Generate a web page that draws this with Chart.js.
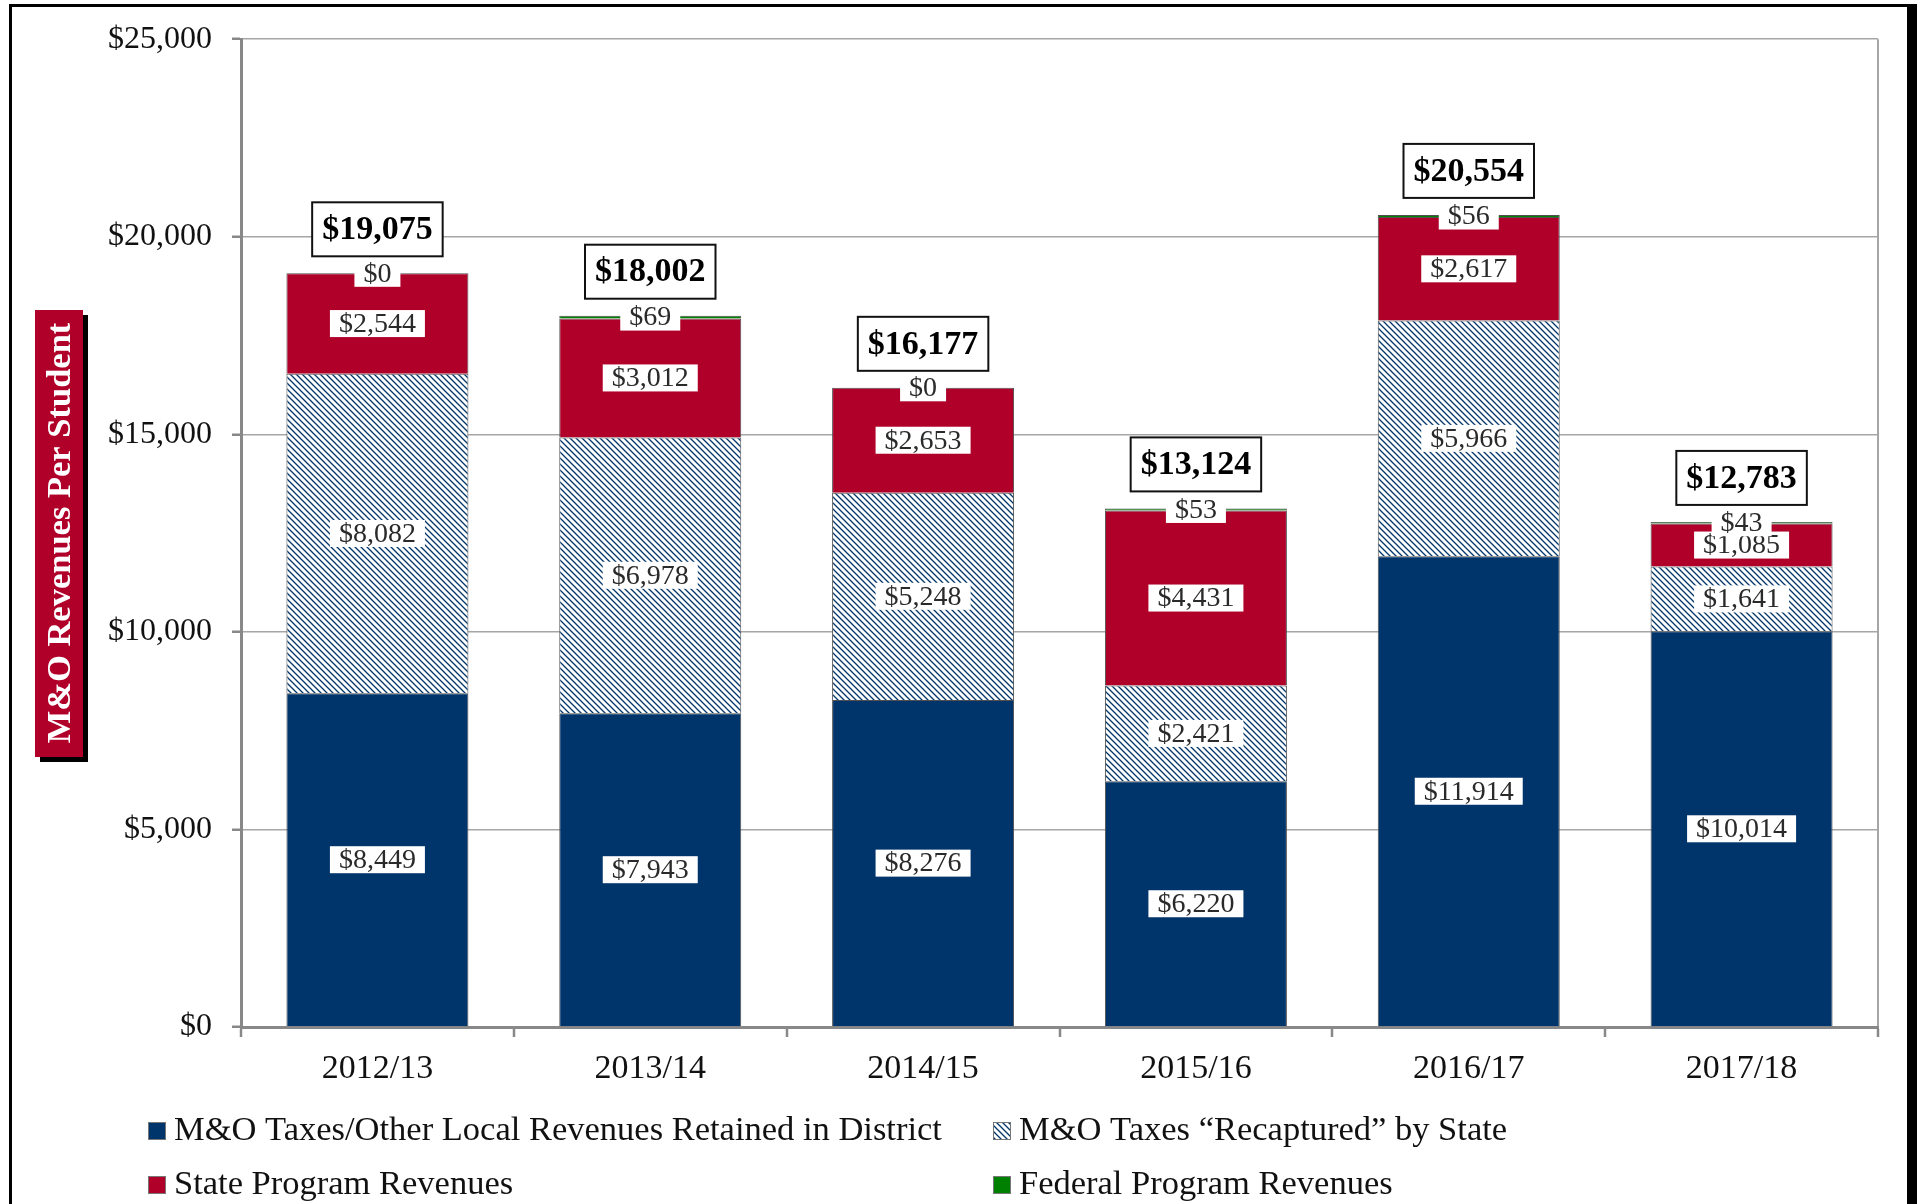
<!DOCTYPE html>
<html>
<head>
<meta charset="utf-8">
<script src="https://cdn.jsdelivr.net/npm/chart.js@4.4.1/dist/chart.umd.min.js"></script>
<style>
html, body { margin: 0; padding: 0; background: #fff; }
#wrap { width: 1917px; height: 1204px; }
</style>
</head>
<body>
<div id="wrap"><canvas id="revenueChart" width="1917" height="1204"></canvas></div>
<script>
const years = ['2012/13', '2013/14', '2014/15', '2015/16', '2016/17', '2017/18'];
const localRetained = [8449, 7943, 8276, 6220, 11914, 10014];
const recaptured = [8082, 6978, 5248, 2421, 5966, 1641];
const statePrograms = [2544, 3012, 2653, 4431, 2617, 1085];
const federalPrograms = [0, 69, 0, 53, 56, 43];
const totals = [19075, 18002, 16177, 13124, 20554, 12783];
const yTicks = [0, 5000, 10000, 15000, 20000, 25000];
const seriesNames = [
    'M&O Taxes/Other Local Revenues Retained in District',
    'M&O Taxes \u201cRecaptured\u201d by State',
    'State Program Revenues',
    'Federal Program Revenues'
];
const yTitle = 'M&O Revenues Per Student';

const SERIF = '"Liberation Serif", "Times New Roman", serif';
const NAVY = '#00356b';
const RED = '#b0002a';
const GREEN = '#008000';

function money(v) {
    return '$' + v.toLocaleString('en-US');
}

function makeHatch() {
    const c = document.createElement('canvas');
    c.width = 6;
    c.height = 6;
    const g = c.getContext('2d');
    g.fillStyle = '#fff';
    g.fillRect(0, 0, 6, 6);
    g.strokeStyle = NAVY;
    g.lineWidth = 1.3;
    g.beginPath();
    g.moveTo(-1, -1); g.lineTo(7, 7);
    g.moveTo(-1, 5); g.lineTo(1, 7);
    g.moveTo(5, -1); g.lineTo(7, 1);
    g.stroke();
    return g.createPattern(c, 'repeat');
}
const hatch = makeHatch();
const fills = [NAVY, hatch, RED, GREEN];

// outer frame, boxed y-axis title and legend
const framePlugin = {
    id: 'frame',
    afterDraw(chart) {
        const ctx = chart.ctx;
        ctx.save();
        ctx.fillStyle = '#000';
        ctx.fillRect(9, 4, 1908, 3);
        ctx.fillRect(9, 4, 3, 1200);
        ctx.fillRect(1907, 4, 10, 1200);

        ctx.fillStyle = '#000';
        ctx.fillRect(40, 315, 48, 447);
        ctx.fillStyle = RED;
        ctx.fillRect(35, 310, 48, 447);
        ctx.translate(60, 533);
        ctx.rotate(-Math.PI / 2);
        ctx.fillStyle = '#fff';
        ctx.font = 'bold 34.5px ' + SERIF;
        ctx.textAlign = 'center';
        ctx.textBaseline = 'middle';
        ctx.fillText(yTitle, 0, 1);
        ctx.restore();

        const spots = [[148, 1131], [993, 1131], [148, 1185], [993, 1185]];
        ctx.save();
        ctx.font = '34.5px ' + SERIF;
        ctx.textBaseline = 'middle';
        spots.forEach((s, i) => {
            ctx.fillStyle = fills[i];
            ctx.fillRect(s[0], s[1] - 9, 18, 18);
            ctx.strokeStyle = '#777';
            ctx.lineWidth = 1;
            ctx.strokeRect(s[0] + 0.5, s[1] - 8.5, 17, 17);
            ctx.fillStyle = '#111';
            ctx.fillText(seriesNames[i], s[0] + 26, s[1]);
        });
        ctx.restore();
    }
};

// value labels inside segments and totals above the stacks
const labelPlugin = {
    id: 'segmentLabels',
    afterDatasetsDraw(chart) {
        const ctx = chart.ctx;
        ctx.save();
        ctx.textAlign = 'center';
        ctx.textBaseline = 'middle';
        ctx.font = '28px ' + SERIF;
        chart.data.datasets.forEach((ds, i) => {
            const meta = chart.getDatasetMeta(i);
            meta.data.forEach((bar, j) => {
                const p = bar.getProps(['x', 'y', 'base'], true);
                const cy = (p.y + p.base) / 2;
                const txt = money(ds.data[j]);
                const w = ctx.measureText(txt).width + 18;
                ctx.fillStyle = '#fff';
                ctx.fillRect(p.x - w / 2, cy - 13.5, w, 27);
                ctx.fillStyle = '#2a2a2a';
                ctx.fillText(txt, p.x, cy + 1);
            });
        });

        ctx.font = 'bold 34px ' + SERIF;
        const last = chart.getDatasetMeta(chart.data.datasets.length - 1);
        last.data.forEach((bar, j) => {
            const p = bar.getProps(['x', 'y'], true);
            const cy = p.y - 44;
            const txt = money(totals[j]);
            const w = ctx.measureText(txt).width + 20;
            ctx.fillStyle = '#fff';
            ctx.fillRect(p.x - w / 2, cy - 27, w, 54);
            ctx.strokeStyle = '#111';
            ctx.lineWidth = 2;
            ctx.strokeRect(p.x - w / 2, cy - 27, w, 54);
            ctx.fillStyle = '#000';
            ctx.fillText(txt, p.x, cy + 1);
        });
        ctx.restore();
    }
};

const seriesData = [localRetained, recaptured, statePrograms, federalPrograms];

new Chart(document.getElementById('revenueChart').getContext('2d'), {
    type: 'bar',
    data: {
        labels: years,
        datasets: seriesData.map((d, i) => ({
            label: seriesNames[i],
            data: d,
            backgroundColor: fills[i],
            borderColor: '#505050',
            borderWidth: (c) => (c.raw === 0 ? 0 : 1),
            categoryPercentage: 0.667,
            barPercentage: 1
        }))
    },
    options: {
        responsive: false,
        animation: false,
        events: [],
        layout: {
            padding: { left: 0, top: 39, right: 39, bottom: 117 }
        },
        plugins: {
            legend: { display: false },
            tooltip: { enabled: false }
        },
        scales: {
            x: {
                stacked: true,
                afterFit: (s) => { s.height = 60; },
                grid: {
                    offset: true,
                    drawOnChartArea: true,
                    color: (c) => (c.type === 'scale' ? '#a6a6a6' : 'rgba(0,0,0,0)'),
                    lineWidth: 2,
                    tickLength: 10,
                    tickColor: '#888',
                    tickWidth: 2.5
                },
                border: { color: '#888', width: 3 },
                ticks: {
                    font: { family: SERIF, size: 34 },
                    color: '#111',
                    padding: 12
                }
            },
            y: {
                stacked: true,
                min: 0,
                max: 25000,
                afterFit: (s) => { s.width = 241; },
                afterBuildTicks: (s) => { s.ticks = yTicks.map((v) => ({ value: v })); },
                grid: {
                    color: '#a6a6a6',
                    lineWidth: 1.5,
                    tickLength: 9,
                    tickColor: '#888',
                    tickWidth: 2.5
                },
                border: { color: '#888', width: 3 },
                ticks: {
                    font: { family: SERIF, size: 32 },
                    color: '#111',
                    padding: 20,
                    callback: (v) => money(v)
                }
            }
        }
    },
    plugins: [labelPlugin, framePlugin]
});
</script>
</body>
</html>
